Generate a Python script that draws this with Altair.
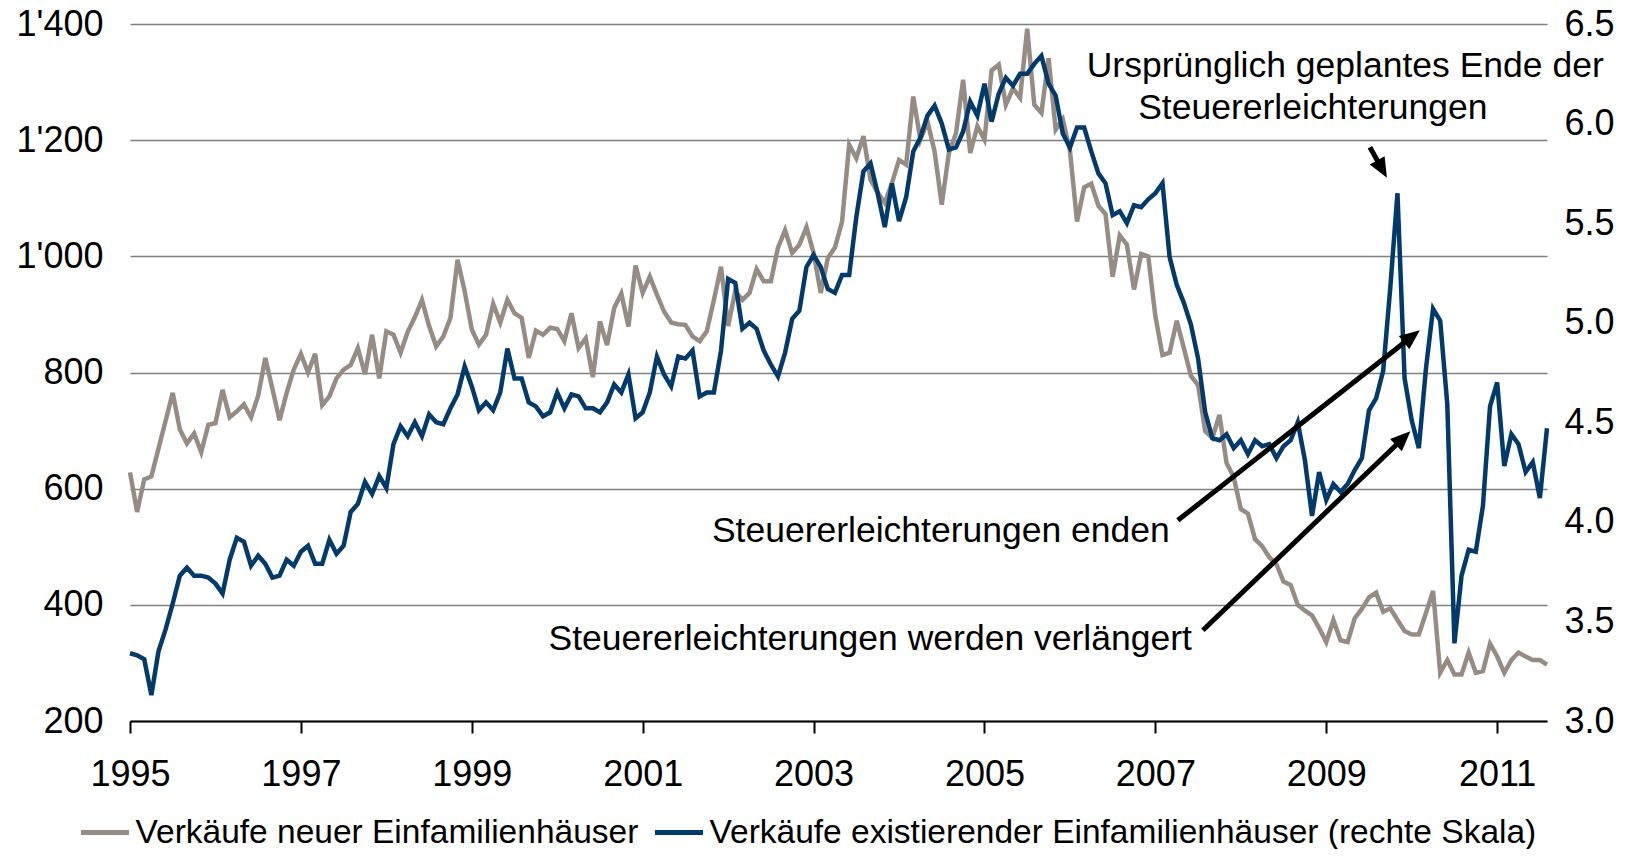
import math
import altair as alt
import pandas as pd

FONT = "Liberation Sans"

# ---------------- data (monthly, Jan 1995 - Aug 2011) ----------------
start_year = 1995

# Verkäufe neuer Einfamilienhäuser (Tsd., linke Skala)
new_home_sales = [
    628, 560, 616, 621, 669, 717, 765, 702, 678, 695, 663, 710,          # 1995
    713, 770, 723, 733, 745, 723, 760, 825, 772, 718, 765, 805,          # 1996
    832, 800, 832, 744, 759, 790, 805, 813, 842, 797, 865, 790,          # 1997
    871, 865, 834, 870, 895, 925, 880, 845, 862, 894, 994, 940,          # 1998
    874, 848, 865, 918, 886, 925, 902, 894, 825, 872, 865, 877,          # 1999
    875, 854, 902, 842, 859, 792, 888, 847, 911, 936, 879, 984,          # 2000
    937, 965, 934, 905, 886, 883, 882, 862, 854, 871, 925, 982,          # 2001
    880, 940, 925, 937, 978, 957, 957, 1015, 1045, 1006, 1020, 1050,     # 2002
    1006, 937, 997, 1015, 1060, 1192, 1169, 1207, 1132, 1110, 1092, 1126,  # 2003
    1166, 1158, 1275, 1201, 1232, 1180, 1089, 1178, 1212, 1304, 1178, 1224,  # 2004
    1201, 1320, 1330, 1261, 1289, 1273, 1392, 1261, 1247, 1341, 1218, 1236,  # 2005
    1182, 1060, 1119, 1125, 1087, 1073, 965, 1036, 1020, 943, 1004, 1000,  # 2006
    897, 830, 834, 889, 842, 794, 778, 699, 687, 727, 644, 620,          # 2007
    565, 557, 513, 501, 482, 470, 440, 434, 400, 390, 382, 360,          # 2008
    336, 374, 339, 336, 377, 393, 413, 421, 388, 394, 374, 355,          # 2009
    349, 349, 386, 424, 283, 305, 280, 280, 318, 283, 286, 333,          # 2010
    311, 283, 305, 318, 311, 305, 305, 297,                              # 2011
]

# Verkäufe existierender Einfamilienhäuser (Mio., rechte Skala)
existing_home_sales = [
    3.34, 3.33, 3.31, 3.13, 3.35, 3.46, 3.59, 3.73, 3.77, 3.73, 3.73, 3.72,  # 1995
    3.69, 3.64, 3.81, 3.92, 3.90, 3.78, 3.83, 3.79, 3.72, 3.73, 3.81, 3.78,  # 1996
    3.85, 3.88, 3.79, 3.79, 3.91, 3.84, 3.88, 4.05, 4.09, 4.20, 4.14, 4.23,  # 1997
    4.17, 4.39, 4.48, 4.43, 4.50, 4.43, 4.54, 4.50, 4.49, 4.57, 4.64, 4.78,  # 1998
    4.68, 4.56, 4.60, 4.56, 4.65, 4.87, 4.72, 4.72, 4.60, 4.58, 4.53, 4.55,  # 1999
    4.65, 4.57, 4.64, 4.63, 4.57, 4.57, 4.55, 4.60, 4.69, 4.65, 4.74, 4.52,  # 2000
    4.55, 4.65, 4.83, 4.74, 4.68, 4.83, 4.82, 4.86, 4.63, 4.65, 4.65, 4.86,  # 2001
    5.22, 5.20, 4.97, 5.00, 4.97, 4.86, 4.79, 4.73, 4.85, 5.02, 5.06, 5.28,  # 2002
    5.34, 5.28, 5.17, 5.15, 5.24, 5.24, 5.53, 5.76, 5.80, 5.65, 5.48, 5.70,  # 2003
    5.51, 5.63, 5.86, 5.93, 6.04, 6.09, 6.00, 5.87, 5.88, 5.96, 6.11, 6.04,  # 2004
    6.20, 6.01, 6.15, 6.23, 6.19, 6.25, 6.25, 6.30, 6.34, 6.20, 6.14, 5.95,  # 2005
    5.88, 5.98, 5.98, 5.86, 5.75, 5.70, 5.54, 5.56, 5.50, 5.59, 5.58, 5.62,  # 2006
    5.65, 5.70, 5.33, 5.19, 5.10, 4.99, 4.82, 4.55, 4.42, 4.41, 4.44, 4.37,  # 2007
    4.41, 4.34, 4.41, 4.38, 4.39, 4.32, 4.38, 4.41, 4.50, 4.31, 4.03, 4.25,  # 2008
    4.11, 4.19, 4.15, 4.19, 4.26, 4.32, 4.56, 4.62, 4.76, 5.18, 5.65, 4.72,  # 2009
    4.51, 4.37, 4.77, 5.07, 5.01, 4.59, 3.39, 3.73, 3.86, 3.85, 4.08, 4.58,  # 2010
    4.70, 4.28, 4.44, 4.39, 4.25, 4.30, 4.12, 4.47,                          # 2011
]

series_names = [
    "Verkäufe neuer Einfamilienhäuser",
    "Verkäufe existierender Einfamilienhäuser (rechte Skala)",
]
series_colors = ["#978C84", "#023A6B"]

x_ticks = [1995, 1997, 1999, 2001, 2003, 2005, 2007, 2009, 2011]
left_ticks = [200, 400, 600, 800, 1000, 1200, 1400]
right_ticks = [3.0, 3.5, 4.0, 4.5, 5.0, 5.5, 6.0, 6.5]

# annotations (x in years, y in left-axis units)
ann_center_text = ["Ursprünglich geplantes Ende der", "Steuererleichterungen"]
ann_center_x = [2009.222, 2008.843]
ann_center_y = [1309, 1236]

ann_right_text = ["Steuererleichterungen enden", "Steuererleichterungen werden verlängert"]
ann_right_x = [2007.169, 2007.427]
ann_right_y = [508, 323]

arrow_from_x = [2009.511, 2007.263, 2007.556]
arrow_from_y = [1187.7, 545.5, 356.2]
arrow_to_x = [2009.710, 2010.095, 2009.985]
arrow_to_y = [1135.2, 872.6, 698.8]

# ---------------- layout ----------------
W, H = 1417, 697
n = len(new_home_sales)
t = [start_year + i / 12 for i in range(n)]
x_min, x_max = start_year, t[-1]
y_min, y_max = left_ticks[0], left_ticks[-1]

df_new = pd.DataFrame({"t": t, "value": new_home_sales, "series": series_names[0]})
df_ex = pd.DataFrame({"t": t, "value": existing_home_sales, "series": series_names[1]})

# arrow geometry: head angle (screen space) and slightly shortened shaft
ppx = W / (x_max - x_min)
ppy = H / (y_max - y_min)
HEAD_BACK = 10
rows = []
for x0, y0, x1, y1 in zip(arrow_from_x, arrow_from_y, arrow_to_x, arrow_to_y):
    dx = (x1 - x0) * ppx
    dy = -(y1 - y0) * ppy
    L = math.hypot(dx, dy)
    ux, uy = dx / L, dy / L
    rows.append({
        "x0": x0, "y0": y0, "x1": x1, "y1": y1,
        "x1s": x1 - HEAD_BACK * ux / ppx,
        "y1s": y1 + HEAD_BACK * uy / ppy,
        "angle": math.degrees(math.atan2(dx, -dy)) % 360,
    })
df_arrows = pd.DataFrame(rows)
df_tc = pd.DataFrame({"x": ann_center_x, "y": ann_center_y, "text": ann_center_text})
df_tr = pd.DataFrame({"x": ann_right_x, "y": ann_right_y, "text": ann_right_text})

x_scale = alt.Scale(domain=[x_min, x_max], nice=False, zero=False)
left_scale = alt.Scale(domain=[y_min, y_max], nice=False, zero=False)
right_scale = alt.Scale(domain=[right_ticks[0], right_ticks[-1]], nice=False, zero=False)
color_scale = alt.Scale(domain=series_names, range=series_colors)

x_axis = alt.Axis(
    orient="bottom", values=x_ticks, format="d", title=None, grid=False,
    domain=True, domainColor="black", domainWidth=2,
    ticks=True, tickColor="black", tickWidth=2, tickSize=12,
    labelPadding=24, labelFontSize=36, labelFont=FONT, labelColor="black",
    labelFlush=False, labelOverlap=False, labelBound=False,
)
left_axis = alt.Axis(
    orient="left", values=left_ticks, title=None,
    labelExpr="replace(format(datum.value, ',d'), ',', \"'\")",
    domain=False, ticks=False, labelPadding=27,
    grid=True, gridColor="#7F7F7F", gridWidth=1.3,
    labelFontSize=36, labelFont=FONT, labelColor="black",
    labelFlush=False, labelOverlap=False,
)
right_axis = alt.Axis(
    orient="right", values=right_ticks, format=".1f", title=None,
    domain=False, ticks=False, grid=False, labelPadding=17,
    labelFontSize=36, labelFont=FONT, labelColor="black",
    labelFlush=False, labelOverlap=False,
)
legend = alt.Legend(
    orient="none", legendX=-51.5, legendY=782, direction="horizontal",
    title=None, symbolType="stroke", symbolSize=2304, symbolStrokeWidth=5,
    labelFontSize=33.5, labelFont=FONT, labelColor="black",
    labelOffset=4, columnPadding=6, padding=0, labelLimit=2000,
)

x_enc = alt.X("t:Q", scale=x_scale, axis=x_axis)

grey = alt.Chart(df_new).mark_line(strokeWidth=4.5).encode(
    x=x_enc,
    y=alt.Y("value:Q", scale=left_scale, axis=left_axis),
    color=alt.Color("series:N", scale=color_scale, legend=legend),
)

blue = alt.Chart(df_ex).mark_line(strokeWidth=4.5).encode(
    x=x_enc,
    y=alt.Y("value:Q", scale=right_scale, axis=right_axis),
    color=alt.Color("series:N", scale=color_scale, legend=None),
)

head_path = "M0,0L0.85,2L-0.85,2Z"

rules = alt.Chart(df_arrows).mark_rule(strokeWidth=5, color="black").encode(
    x=alt.X("x0:Q", scale=x_scale, axis=x_axis),
    y=alt.Y("y0:Q", scale=left_scale, axis=None),
    x2=alt.X2("x1s"),
    y2=alt.Y2("y1s"),
)
heads = alt.Chart(df_arrows).mark_point(
    shape=head_path, size=400, filled=True, color="black", opacity=1, strokeWidth=0
).encode(
    x=alt.X("x1:Q", scale=x_scale, axis=x_axis),
    y=alt.Y("y1:Q", scale=left_scale, axis=None),
    angle=alt.Angle("angle:Q", scale=None),
)
text_c = alt.Chart(df_tc).mark_text(
    align="center", baseline="alphabetic", fontSize=35.5, font=FONT, color="black"
).encode(
    x=alt.X("x:Q", scale=x_scale, axis=x_axis),
    y=alt.Y("y:Q", scale=left_scale, axis=None),
    text="text:N",
)
text_r = alt.Chart(df_tr).mark_text(
    align="right", baseline="alphabetic", fontSize=35.5, font=FONT, color="black"
).encode(
    x=alt.X("x:Q", scale=x_scale, axis=x_axis),
    y=alt.Y("y:Q", scale=left_scale, axis=None),
    text="text:N",
)

chart = (
    alt.layer(grey, blue, rules, heads, text_c, text_r)
    .resolve_scale(y="independent", x="shared")
    .resolve_axis(x="shared")
    .properties(
        width=W, height=H, autosize="none",
        padding={"left": 122, "top": 16, "right": 93, "bottom": 128},
    )
    .configure(font=FONT)
    .configure_view(stroke=None)
)

chart.save("out.html", embed_options={"renderer": "svg", "actions": False})
